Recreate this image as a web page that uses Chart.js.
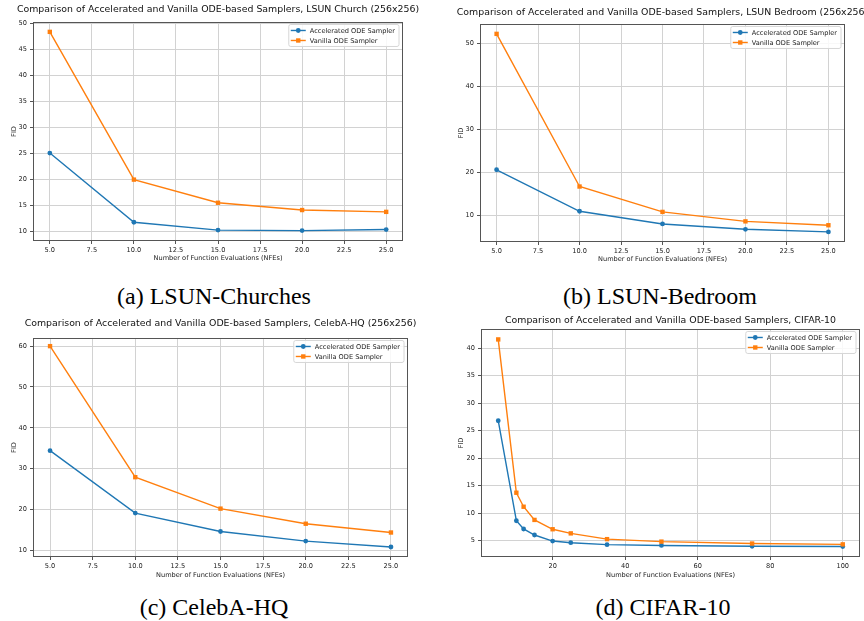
<!DOCTYPE html>
<html>
<head>
<meta charset="utf-8">
<title>Accelerated vs Vanilla ODE Samplers</title>
<script src="https://cdn.jsdelivr.net/npm/chart.js@4.4.1/dist/chart.umd.min.js"></script>
<style>
  html, body { margin: 0; padding: 0; background: #fff; }
  #page { position: relative; width: 864px; height: 621px; overflow: hidden; }
  .panel { position: absolute; width: 432px; height: 270px; }
  .caption {
    position: absolute; width: 300px; text-align: center;
    font-family: "Liberation Serif", "Times New Roman", serif;
    font-size: 24px; line-height: 24px; color: #000; white-space: nowrap;
  }
</style>
</head>
<body>
<div id="page">
  <div class="panel" style="left:0;top:0"><canvas id="churchChart" width="432" height="270"></canvas></div>
  <div class="panel" style="left:432px;top:0"><canvas id="bedroomChart" width="432" height="270"></canvas></div>
  <div class="panel" style="left:0;top:310px"><canvas id="celebaChart" width="432" height="270"></canvas></div>
  <div class="panel" style="left:432px;top:310px"><canvas id="cifarChart" width="432" height="270"></canvas></div>

  <div class="caption" style="left:64px;top:284px">(a) LSUN-Churches</div>
  <div class="caption" style="left:510px;top:284px">(b) LSUN-Bedroom</div>
  <div class="caption" style="left:64px;top:595px">(c) CelebA-HQ</div>
  <div class="caption" style="left:513px;top:595px">(d) CIFAR-10</div>
</div>

<script>
// ------------------------------------------
// DATA
// ------------------------------------------

// number of function evaluations
const nfeShort = [5, 10, 15, 20, 25];
const nfeCifar = [5, 10, 12, 15, 20, 25, 35, 50, 75, 100];

// FID values per dataset
const churchAccel = [25.0, 11.7, 10.2, 10.1, 10.3];
const churchVanilla = [48.3, 19.9, 15.45, 14.05, 13.7];

const bedroomAccel = [20.6, 10.95, 8.0, 6.75, 6.15];
const bedroomVanilla = [52.2, 16.7, 10.8, 8.6, 7.7];

const celebaAccel = [34.4, 19.1, 14.6, 12.25, 10.8];
const celebaVanilla = [60.0, 27.9, 20.2, 16.5, 14.35];

const cifarAccel = [26.8, 8.6, 7.1, 6.0, 4.9, 4.6, 4.25, 4.1, 3.95, 3.9];
const cifarVanilla = [41.6, 13.7, 11.15, 8.75, 7.05, 6.3, 5.25, 4.8, 4.45, 4.3];

const seriesLabels = ["Accelerated ODE Sampler", "Vanilla ODE Sampler"];
const titleStart = "Comparison of Accelerated and Vanilla ODE-based Samplers, ";

// ------------------------------------------
// STYLE
// ------------------------------------------

const BLUE = "#1f77b4";
const ORANGE = "#ff7f0e";
const FONT = "'DejaVu Sans', sans-serif";
const SMALL = 6.6;
const TITLE_SIZE = 9.4;

Chart.defaults.font.family = FONT;
Chart.defaults.font.size = SMALL;
Chart.defaults.color = "#222";

// keep the title centred on the plot area, not on the canvas
const centerTitle = {
  id: "centerTitle",
  afterLayout(chart) {
    const tb = chart.titleBlock;
    if (!tb) return;
    const cx = (chart.chartArea.left + chart.chartArea.right) / 2;
    tb.left = cx - 320;
    tb.right = cx + 320;
    tb.width = 640;
  },
};

// matplotlib style box around the axes
const axesFrame = {
  id: "axesFrame",
  afterDatasetsDraw(chart) {
    const { ctx, chartArea: a } = chart;
    ctx.save();
    ctx.strokeStyle = "#555";
    ctx.lineWidth = 1;
    const l = Math.round(a.left) + 0.5, t = Math.round(a.top) + 0.5;
    const r = Math.round(a.right) - 0.5, b = Math.round(a.bottom) - 0.5;
    ctx.strokeRect(l, t, r - l, b - t);
    ctx.restore();
  },
};

// legend box in the upper right of the plot
const boxLegend = {
  id: "boxLegend",
  afterDraw(chart) {
    const { ctx, chartArea } = chart;
    const sets = chart.data.datasets;
    ctx.save();
    ctx.font = SMALL + "px " + FONT;
    const textW = Math.max(...sets.map((d) => ctx.measureText(d.label).width));
    const w = 21 + textW + 4;
    const h = 22;
    const x = chartArea.right - 4 - w;
    const y = chartArea.top + 2.5;

    // rounded frame
    const rad = 2;
    ctx.beginPath();
    ctx.moveTo(x + rad, y);
    ctx.lineTo(x + w - rad, y);
    ctx.quadraticCurveTo(x + w, y, x + w, y + rad);
    ctx.lineTo(x + w, y + h - rad);
    ctx.quadraticCurveTo(x + w, y + h, x + w - rad, y + h);
    ctx.lineTo(x + rad, y + h);
    ctx.quadraticCurveTo(x, y + h, x, y + h - rad);
    ctx.lineTo(x, y + rad);
    ctx.quadraticCurveTo(x, y, x + rad, y);
    ctx.closePath();
    ctx.fillStyle = "rgba(255,255,255,0.85)";
    ctx.fill();
    ctx.strokeStyle = "#d6d6d6";
    ctx.lineWidth = 1;
    ctx.stroke();

    sets.forEach((d, i) => {
      const cy = y + 6 + i * 10;
      ctx.strokeStyle = d.borderColor;
      ctx.lineWidth = d.borderWidth;
      ctx.beginPath();
      ctx.moveTo(x + 2, cy);
      ctx.lineTo(x + 17, cy);
      ctx.stroke();

      ctx.fillStyle = d.borderColor;
      if (d.pointStyle === "rect") {
        const s = d.pointRadius * Math.SQRT1_2;
        ctx.fillRect(x + 9.5 - s, cy - s, 2 * s, 2 * s);
      } else {
        ctx.beginPath();
        ctx.arc(x + 9.5, cy, d.pointRadius, 0, Math.PI * 2);
        ctx.fill();
      }

      ctx.fillStyle = "#222";
      ctx.textBaseline = "middle";
      ctx.textAlign = "left";
      ctx.fillText(d.label, x + 21, cy + 0.5);
    });
    ctx.restore();
  },
};

// ------------------------------------------
// CHART BUILDER
// ------------------------------------------

function toPoints(xs, ys) {
  return xs.map((x, i) => ({ x: x, y: ys[i] }));
}

function makeChart(p) {
  const ctx = document.getElementById(p.id).getContext("2d");
  const grid = {
    color: "#d2d2d2",
    lineWidth: 1,
    tickLength: 3,
    tickColor: "#555",
    drawTicks: true,
  };

  return new Chart(ctx, {
    type: "line",
    data: {
      datasets: [
        {
          label: seriesLabels[0],
          data: toPoints(p.nfe, p.accel),
          borderColor: BLUE,
          backgroundColor: BLUE,
          borderWidth: 1.4,
          pointStyle: "circle",
          pointRadius: 2.4,
          pointBorderWidth: 0,
          pointBackgroundColor: BLUE,
          tension: 0,
          order: 1,
        },
        {
          label: seriesLabels[1],
          data: toPoints(p.nfe, p.vanilla),
          borderColor: ORANGE,
          backgroundColor: ORANGE,
          borderWidth: 1.4,
          pointStyle: "rect",
          pointRadius: 3.1,
          pointBorderWidth: 0,
          pointBackgroundColor: ORANGE,
          tension: 0,
          order: 0,
        },
      ],
    },
    options: {
      responsive: false,
      animation: false,
      events: [],
      layout: { padding: { left: 0, right: p.padRight, top: 0, bottom: 0 } },
      plugins: {
        legend: { display: false },
        tooltip: { enabled: false },
        title: {
          display: true,
          text: p.title,
          color: "#111",
          font: { size: TITLE_SIZE, weight: "normal", lineHeight: 1.2 },
          padding: { top: p.titleTop, bottom: p.titleBottom },
        },
      },
      scales: {
        x: {
          type: "linear",
          min: p.xMin,
          max: p.xMax,
          grid: grid,
          border: { display: false },
          ticks: {
            stepSize: p.xStep,
            includeBounds: false,
            padding: 2,
            maxRotation: 0,
            autoSkip: false,
            callback: (v) => v.toFixed(p.xDecimals),
          },
          title: {
            display: true,
            text: "Number of Function Evaluations (NFEs)",
            font: { lineHeight: 1.2 },
            padding: { top: 0, bottom: p.xTitlePad },
          },
          afterFit: (s) => { s.height = p.xAxisHeight; },
        },
        y: {
          type: "linear",
          min: p.yMin,
          max: p.yMax,
          grid: grid,
          border: { display: false },
          ticks: {
            stepSize: p.yStep,
            includeBounds: false,
            padding: 3,
            autoSkip: false,
            callback: (v) => String(v),
          },
          title: {
            display: true,
            text: "FID",
            font: { lineHeight: 1.2 },
            padding: { top: p.yTitlePad, bottom: 0 },
          },
          afterFit: (s) => { s.width = p.yAxisWidth; },
        },
      },
    },
    plugins: [centerTitle, axesFrame, boxLegend],
  });
}

// ------------------------------------------
// PANELS
// ------------------------------------------

makeChart({
  id: "churchChart",
  title: titleStart + "LSUN Church (256x256)",
  nfe: nfeShort, accel: churchAccel, vanilla: churchVanilla,
  xMin: 4, xMax: 26, xStep: 2.5, xDecimals: 1,
  yMin: 8.1, yMax: 50.2, yStep: 5,
  yAxisWidth: 33, xAxisHeight: 29, padRight: 29,
  titleTop: 4.4, titleBottom: 6.3, xTitlePad: 8, yTitlePad: 10,
});

makeChart({
  id: "bedroomChart",
  title: titleStart + "LSUN Bedroom (256x256)",
  nfe: nfeShort, accel: bedroomAccel, vanilla: bedroomVanilla,
  xMin: 4, xMax: 26, xStep: 2.5, xDecimals: 1,
  yMin: 3.8, yMax: 54.5, yStep: 10,
  yAxisWidth: 48, xAxisHeight: 28, padRight: 19,
  titleTop: 7.4, titleBottom: 5.3, xTitlePad: 7, yTitlePad: 25,
});

makeChart({
  id: "celebaChart",
  title: titleStart + "CelebA-HQ (256x256)",
  nfe: nfeShort, accel: celebaAccel, vanilla: celebaVanilla,
  xMin: 4, xMax: 26, xStep: 2.5, xDecimals: 1,
  yMin: 8.35, yMax: 62.0, yStep: 10,
  yAxisWidth: 33, xAxisHeight: 23, padRight: 24,
  titleTop: 8.4, titleBottom: 8.3, xTitlePad: 1, yTitlePad: 10,
});

makeChart({
  id: "cifarChart",
  title: titleStart + "CIFAR-10",
  nfe: nfeCifar, accel: cifarAccel, vanilla: cifarVanilla,
  xMin: 0.25, xMax: 104.75, xStep: 20, xDecimals: 0,
  yMin: 2.0, yMax: 43.5, yStep: 5,
  yAxisWidth: 49, xAxisHeight: 23, padRight: 0,
  titleTop: 5.4, titleBottom: 2.3, xTitlePad: 1, yTitlePad: 25,
});
</script>
</body>
</html>
